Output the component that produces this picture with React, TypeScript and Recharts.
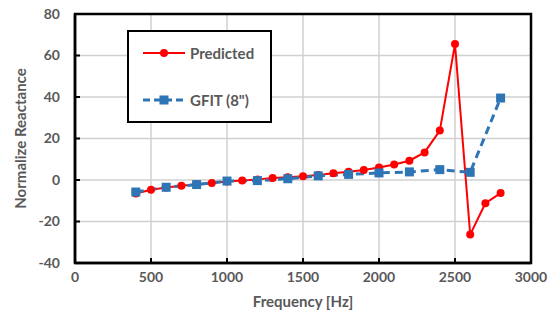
import { CartesianGrid, Line, LineChart, ReferenceArea, XAxis, YAxis } from "recharts";

const frequencies = [400, 500, 600, 700, 800, 900, 1000, 1100, 1200, 1300, 1400, 1500, 1600, 1700, 1800, 1900, 2000, 2100, 2200, 2300, 2400, 2500, 2600, 2700, 2800];
const predicted = [-6.5, -4.7, -3.6, -2.8, -2.0, -1.5, -0.7, -0.3, 0.3, 1.0, 1.3, 1.8, 2.4, 3.2, 4.0, 4.8, 6.0, 7.5, 9.3, 13.3, 23.8, 65.5, -26.3, -11.2, -6.3];
const gfitFrequencies = [400, 600, 800, 1000, 1200, 1400, 1600, 1800, 2000, 2200, 2400, 2600, 2800];
const gfit = [-5.8, -3.5, -2.2, -0.5, -0.3, 0.6, 2.0, 2.7, 3.4, 3.9, 5.0, 3.7, 39.5];
const xTicks = [0, 500, 1000, 1500, 2000, 2500, 3000];
const yTicks = [-40, -20, 0, 20, 40, 60, 80];

const RED = "#ff0000";
const BLUE = "#2e75b6";
const TEXT = "#595959";
const FONT = "Lato, 'Open Sans', sans-serif";

const data = frequencies.map((f, i) => {
  const j = gfitFrequencies.indexOf(f);
  return { freq: f, predicted: predicted[i], gfit: j >= 0 ? gfit[j] : null };
});

// carré bleu pour la série GFIT
function SquareDot(props: { cx?: number; cy?: number; index?: number }) {
  const { cx, cy } = props;
  if (cx == null || cy == null) return null;
  return <rect key={props.index} x={cx - 4.5} y={cy - 4.5} width={9} height={9} fill={BLUE} />;
}

function LegendBox() {
  return (
    <div
      style={{
        position: "absolute",
        left: 127,
        top: 30,
        border: "2px solid #000",
        background: "#fff",
        width: 141,
        height: 89,
        fontFamily: FONT,
        fontWeight: 700,
        fontSize: 15,
        color: TEXT,
      }}
    >
      <div style={{ display: "flex", alignItems: "center", height: 20, marginTop: 11, marginLeft: 13 }}>
        <svg width={44} height={12}>
          <line x1={1} y1={6} x2={43} y2={6} stroke={RED} strokeWidth={2} />
          <circle cx={22} cy={6} r={4} fill={RED} />
        </svg>
        <span style={{ marginLeft: 4 }}>Predicted</span>
      </div>
      <div style={{ display: "flex", alignItems: "center", height: 20, marginTop: 27, marginLeft: 13 }}>
        <svg width={44} height={12}>
          <line x1={1} y1={6} x2={43} y2={6} stroke={BLUE} strokeWidth={3} strokeDasharray="7 4" />
          <rect x={17.5} y={1.5} width={9} height={9} fill={BLUE} />
        </svg>
        <span style={{ marginLeft: 4 }}>GFIT (8")</span>
      </div>
    </div>
  );
}

const tickStyle = { fill: TEXT, fontSize: 14, fontWeight: 700, fontFamily: FONT };

export default function App() {
  return (
    <div style={{ position: "absolute", left: 0, top: 0, width: 554, height: 324, background: "#fff" }}>
      <LineChart width={554} height={324} data={data} margin={{ top: 14, right: 23, bottom: 13, left: 25 }}>
        <CartesianGrid stroke="#d0d0d0" strokeWidth={1.5} />
        <XAxis
          dataKey="freq"
          type="number"
          domain={[0, 3000]}
          ticks={xTicks}
          tick={tickStyle}
          tickSize={-5}
          tickMargin={14}
          tickLine={{ stroke: "#000", strokeWidth: 2 }}
          axisLine={{ stroke: "#000", strokeWidth: 2.5 }}
          height={48}
          label={{ value: "Frequency [Hz]", position: "insideBottom", offset: 4, style: { ...tickStyle, fontSize: 15 } }}
        />
        <YAxis
          type="number"
          domain={[-40, 80]}
          ticks={yTicks}
          tick={tickStyle}
          tickSize={-5}
          tickMargin={20}
          tickLine={{ stroke: "#000", strokeWidth: 2 }}
          axisLine={{ stroke: "#000", strokeWidth: 2.5 }}
          width={50}
          label={{ value: "Normalize Reactance", angle: -90, position: "insideLeft", offset: -4.5, style: { ...tickStyle, fontSize: 15, textAnchor: "middle" } }}
        />
        <ReferenceArea x1={0} x2={3000} y1={-40} y2={80} fill="none" stroke="#000" strokeWidth={2.5} />
        <Line
          dataKey="predicted"
          stroke={RED}
          strokeWidth={2}
          dot={{ r: 4, fill: RED, stroke: RED, strokeWidth: 0 }}
          isAnimationActive={false}
        />
        <Line
          dataKey="gfit"
          stroke={BLUE}
          strokeWidth={3}
          strokeDasharray="8 5"
          connectNulls
          dot={<SquareDot />}
          isAnimationActive={false}
        />
      </LineChart>
      <LegendBox />
    </div>
  );
}
